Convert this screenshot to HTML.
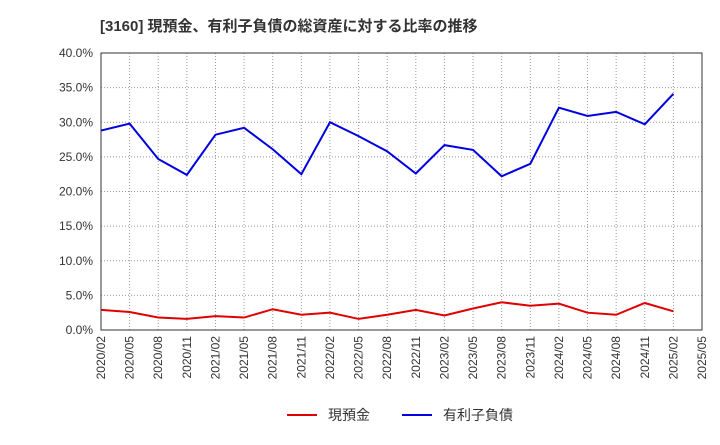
<!DOCTYPE html>
<html><head><meta charset="utf-8"><style>
body{margin:0;background:#fff;font-family:"Liberation Sans","Noto Sans CJK JP",sans-serif;}
svg text{font-family:"Liberation Sans","Noto Sans CJK JP",sans-serif;}
</style></head><body>
<svg id="chart" width="720" height="440">
<text x="100" y="31" font-size="15" font-weight="bold" fill="#333">[3160]  現預金、有利子負債の総資産に対する比率の推移</text>
<g id="grid"></g><g id="axes"></g><g id="series"></g>
<g>
<line x1="287" y1="415" x2="317" y2="415" stroke="#e00000" stroke-width="2"/>
<text x="328" y="420" font-size="14" fill="#333">現預金</text>
<line x1="402" y1="415" x2="432" y2="415" stroke="#0000e0" stroke-width="2"/>
<text x="443" y="420" font-size="14" fill="#333">有利子負債</text>
</g>
</svg>
<script>
const categories=["2020/02","2020/05","2020/08","2020/11","2021/02","2021/05","2021/08","2021/11","2022/02","2022/05","2022/08","2022/11","2023/02","2023/05","2023/08","2023/11","2024/02","2024/05","2024/08","2024/11","2025/02","2025/05"];
const debtValues=[28.8,29.8,24.7,22.4,28.2,29.2,26.1,22.5,30.0,28.0,25.8,22.6,26.7,26.0,22.2,24.0,32.1,30.9,31.5,29.7,34.1];
const cashValues=[2.9,2.6,1.8,1.6,2.0,1.8,3.0,2.2,2.5,1.6,2.2,2.9,2.1,3.1,4.0,3.5,3.8,2.5,2.2,3.9,2.7];
const yTicks=[0,5,10,15,20,25,30,35,40];
const L=101,R=702,T=53,B=330,NS="http://www.w3.org/2000/svg";
const x=i=>L+i*(R-L)/(categories.length-1);
const y=v=>B-v/40*(B-T);
function mk(t,a,p){const e=document.createElementNS(NS,t);for(const k in a)e.setAttribute(k,a[k]);p.appendChild(e);return e;}
const grid=document.getElementById('grid'),axes=document.getElementById('axes'),ser=document.getElementById('series');
categories.forEach((c,i)=>{
 const l=mk('line',{x1:x(i),x2:x(i),y1:T,y2:B,stroke:'#999','stroke-dasharray':'1,2','stroke-width':1},grid);
 
 
 const t=mk('text',{x:0,y:0,'font-size':12,fill:'#333','text-anchor':'end',transform:`translate(${x(i)+4},${B+6}) rotate(-90)`},axes);
 t.textContent=c;
 
 
});
yTicks.forEach(v=>{
 const l=mk('line',{x1:L,x2:R,y1:y(v),y2:y(v),stroke:'#999','stroke-dasharray':'1,2','stroke-width':1},grid);
 
 
 const t=mk('text',{x:L-8,y:y(v)+4,'font-size':12,fill:'#333','text-anchor':'end'},axes);
 t.textContent=v.toFixed(1)+'%';
 
 
});
const f=mk('rect',{x:L,y:T,width:R-L,height:B-T,fill:'none',stroke:'#333','stroke-width':1},axes);


const p1=mk('polyline',{points:cashValues.map((v,i)=>x(i)+','+y(v)).join(' '),fill:'none',stroke:'#e00000','stroke-width':2},ser);


const p2=mk('polyline',{points:debtValues.map((v,i)=>x(i)+','+y(v)).join(' '),fill:'none',stroke:'#0000e0','stroke-width':2},ser);


</script>
</body></html>
